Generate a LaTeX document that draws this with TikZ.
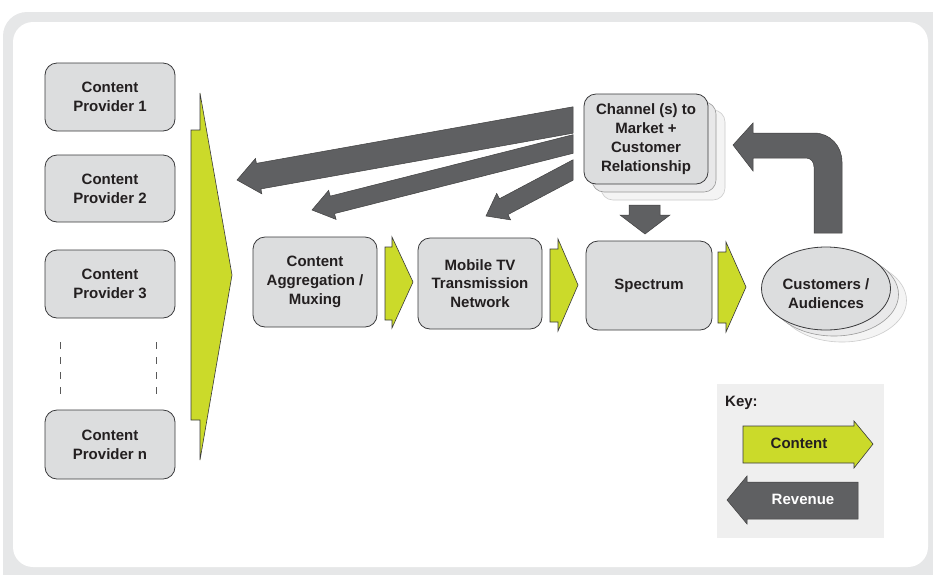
\documentclass[tikz,border=0pt]{standalone}
\usepackage{fontspec}
\setmainfont{Liberation Sans}
\usetikzlibrary{calc,shapes.geometric}
\definecolor{framec}{HTML}{E6E7E8}
\definecolor{boxfill}{HTML}{DCDDDE}
\definecolor{boxline}{HTML}{3A3A3C}
\definecolor{greenc}{HTML}{CBDA2A}
\definecolor{greyarr}{HTML}{5F6062}
\definecolor{txt}{HTML}{231F20}
\definecolor{keybg}{HTML}{EFEFEF}
\definecolor{shadeA}{HTML}{E8E8E9}
\definecolor{shadeB}{HTML}{F4F4F4}
\tikzset{
  box/.style={draw=boxline, fill=boxfill, rounded corners=12pt, line width=0.8pt,
    align=center, font=\bfseries\fontsize{15}{18.8}\selectfont, text=txt, inner sep=2pt},
  shadowbox/.style={rounded corners=12pt, line width=0.6pt, inner sep=0pt},
  garrow/.style={fill=greenc, draw=boxline, line width=0.6pt, line join=miter},
  rarrow/.style={fill=greyarr, draw=black!75, line width=0.5pt, line join=miter},
  lbl/.style={font=\bfseries\fontsize{15}{18.8}\selectfont, text=txt, align=center, inner sep=0pt},
  dashline/.style={draw=black!65, line width=0.9pt, dash pattern=on 7pt off 8pt},
}
% #1 tail, #2 tip, #3 shaft half width, #4 head half width, #5 head length, #6 half height of vertical tail cut
\newcommand{\revblock}[6]{%
  \coordinate (hb) at ($(#2)!#5!(#1)$);
  \filldraw[rarrow] ($(#1)+(0,-#6)$) -- ($(hb)!#3!-90:(#1)$) -- ($(hb)!#4!-90:(#1)$)
    -- (#2) -- ($(hb)!#4!90:(#1)$) -- ($(hb)!#3!90:(#1)$) -- ($(#1)+(0,#6)$) -- cycle;
}
\begin{document}
\begin{tikzpicture}[x=1pt,y=-1pt]
\useasboundingbox (0,0) rectangle (933,574);
\clip (0,0) rectangle (933,574);
% frame
\fill[framec, rounded corners=24pt] (3,12) rectangle (960,600);
\fill[white, rounded corners=20pt] (13,22) rectangle (928,567);

% content providers
\node[box, minimum width=130, minimum height=68] (p1) at (110,97) {Content\\Provider 1};
\node[box, minimum width=130, minimum height=67] (p2) at (110,188.5) {Content\\Provider 2};
\node[box, minimum width=130, minimum height=68] (p3) at (110,284) {Content\\Provider 3};
\node[box, minimum width=130, minimum height=69] (pn) at (110,444.5) {Content\\Provider n};
\draw[dashline] (60,342) -- (60,396);
\draw[dashline] (156,342) -- (156,396);

% big content arrow
\filldraw[garrow] (191,130) -- (200,130) -- (200,93) -- (232,275) -- (200,460) -- (200,420) -- (191,420) -- cycle;

% value chain boxes
\node[box, minimum width=124, minimum height=90] (agg) at (315,282) {Content\\Aggregation /\\Muxing};
\node[box, minimum width=124, minimum height=91] (mtv) at (480,283.5) {Mobile TV\\Transmission\\Network};
\node[box, minimum width=126, minimum height=89] (spec) at (649,285.5) {Spectrum};

% green arrows between
\filldraw[garrow] (385,247) -- (392,247) -- (392,237) -- (413,282) -- (392,328) -- (392,320) -- (385,320) -- cycle;
\filldraw[garrow] (550,249) -- (558,249) -- (558,239) -- (578,285) -- (558,331) -- (558,322) -- (550,322) -- cycle;
\filldraw[garrow] (718,252) -- (726,252) -- (726,242) -- (746,287) -- (726,332) -- (726,323) -- (718,323) -- cycle;

% channel box with shadows
\node[shadowbox, fill=shadeB, draw=black!20, minimum width=124, minimum height=90] at (663,155) {};
\node[shadowbox, fill=shadeA, draw=black!40, minimum width=124, minimum height=90] at (654,147) {};
\node[box, minimum width=124, minimum height=90] (chan) at (646,139) {Channel (s) to\\Market +\\Customer\\Relationship};

% customers ellipse with shadows
\node[ellipse, fill=shadeB, draw=black!20, line width=0.6pt, minimum width=129, minimum height=83, inner sep=0pt] at (842,300.5) {};
\node[ellipse, fill=shadeA, draw=black!40, line width=0.6pt, minimum width=129, minimum height=83, inner sep=0pt] at (834,294.5) {};
\node[ellipse, fill=boxfill, draw=boxline, line width=0.8pt, minimum width=129, minimum height=83, inner sep=0pt] (cust) at (826,288.5) {};
\node[lbl] (custl) at (826,294) {Customers /\\Audiences};

% revenue arrows from channel box
\coordinate (a1t) at (573,120);
\coordinate (a1h) at (237,180);
\coordinate (a2t) at (573,144);
\coordinate (a2h) at (312,210);
\coordinate (a3t) at (573,170);
\coordinate (a3h) at (486,216);
\revblock{a1t}{a1h}{13pt}{18pt}{22pt}{13.2pt}
\revblock{a2t}{a2h}{9pt}{15pt}{21pt}{9.3pt}
\revblock{a3t}{a3h}{9pt}{15pt}{20pt}{10.2pt}

% down arrow from channel to spectrum
\filldraw[rarrow] (629,205) -- (660,205) -- (660,215) -- (670,215) -- (645,234) -- (620,215) -- (629,215) -- cycle;

% bent arrow from customers to channel
\filldraw[rarrow] (814,233) -- (814,167) .. controls (814,162) and (811,158) .. (806,158)
  -- (753,158) -- (753,171) -- (733,145) -- (753,123) -- (753,133) -- (814,133)
  .. controls (830,133) and (842,146) .. (842,162) -- (842,233) -- cycle;

% key
\fill[keybg] (717,384) rectangle (884,538);
\node[lbl, anchor=west] (keyl) at (725,403) {Key:};
\filldraw[garrow] (743,426) -- (854,426) -- (854,421) -- (873,444) -- (854,468) -- (854,463) -- (743,463) -- cycle;
\node[lbl] (keyc) at (799,443) {Content};
\filldraw[rarrow] (858,482) -- (747,482) -- (747,476) -- (727,500) -- (747,524) -- (747,519) -- (858,519) -- cycle;
\node[lbl, text=white] (keyr) at (803,499) {Revenue};
\end{tikzpicture}
\end{document}
